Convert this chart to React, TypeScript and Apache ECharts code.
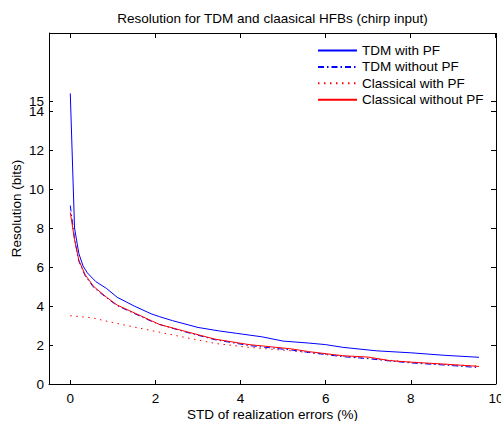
import React, { useEffect, useRef } from "react";
import * as echarts from "echarts";

const titleText = "Resolution for TDM and claasical HFBs (chirp input)";
const xAxisName = "STD of realization errors (%)";
const yAxisName = "Resolution (bits)";
const seriesNames = ["TDM with PF", "TDM without PF", "Classical with PF", "Classical without PF"];

const X_MIN = -0.5;
const X_MAX = 10;
const Y_MIN = 0;
const Y_MAX = 18;
const xTicks = [0, 2, 4, 6, 8, 10];
const yTicks = [0, 2, 4, 6, 8, 10, 12, 14];
const yTopTick = [14.5];

const xTdmPf = [0, 0.1, 0.2, 0.3, 0.4, 0.6, 0.85, 1.1, 1.5, 1.9, 2.1, 2.4, 3.0, 3.5, 3.9, 4.5, 5.0, 5.6, 6.0, 6.4, 7.2, 8.0, 8.8, 9.6];
const yTdmPf = [14.9, 8.0, 6.7, 6.05, 5.7, 5.25, 4.9, 4.45, 4.0, 3.6, 3.45, 3.25, 2.9, 2.72, 2.6, 2.42, 2.2, 2.1, 2.02, 1.88, 1.7, 1.6, 1.47, 1.37];

const xTdmNoPf = [0, 0.1, 0.2, 0.35, 0.55, 0.85, 1.1, 1.5, 1.9, 2.1, 2.7, 3.4, 4.2, 5.2, 5.6, 6.4, 7.0, 7.5, 8.0, 8.8, 9.6];
const yTdmNoPf = [9.15, 7.45, 6.3, 5.55, 4.95, 4.42, 4.02, 3.62, 3.22, 3.05, 2.67, 2.27, 1.97, 1.74, 1.62, 1.4, 1.3, 1.18, 1.08, 0.97, 0.84];

const xClassPf = [0, 0.5, 1.0, 1.5, 2.0, 2.6, 3.4, 4.2, 5.2, 6.0, 6.8, 7.6, 8.4, 9.0, 9.6];
const yClassPf = [3.5, 3.4, 3.15, 2.92, 2.7, 2.43, 2.08, 1.88, 1.7, 1.52, 1.35, 1.2, 1.05, 0.98, 0.92];

const xClassNoPf = [0, 0.1, 0.2, 0.35, 0.55, 0.85, 1.1, 1.5, 1.9, 2.1, 2.7, 3.4, 4.2, 5.2, 5.6, 6.4, 7.0, 7.5, 8.0, 8.8, 9.6];
const yClassNoPf = [8.8, 7.4, 6.35, 5.6, 5.0, 4.45, 4.05, 3.65, 3.25, 3.05, 2.7, 2.3, 2.02, 1.8, 1.66, 1.45, 1.38, 1.2, 1.12, 1.02, 0.9];

const pairs = (xs: number[], ys: number[]) => xs.map((x, i) => [x, ys[i]]);

const FONT = "Liberation Sans, Arial, Helvetica, sans-serif";
const FS = 13.5;
const TICK = 4;

export default function App() {
  const ref = useRef<HTMLDivElement>(null);
  useEffect(() => {
    if (!ref.current) return;
    const chart = echarts.init(ref.current, undefined, { renderer: "svg" });
    const axisLine = { show: true, onZero: false, lineStyle: { color: "#000", width: 1 } };
    const tick = (vals: number[]) => ({ show: true, inside: true, length: TICK, lineStyle: { color: "#000" }, customValues: vals });
    const frameLine = { color: "#000", width: 1, type: "solid" };
    chart.setOption({
      animation: false,
      backgroundColor: "#fff",
      textStyle: { fontFamily: FONT },
      title: {
        text: titleText,
        left: 272.5,
        top: 11,
        padding: 0,
        textAlign: "center",
        textStyle: { fontSize: FS, fontWeight: "normal", color: "#000", fontFamily: FONT },
      },
      legend: {
        orient: "vertical",
        left: 317,
        top: 43.5,
        padding: 0,
        itemWidth: 39,
        itemHeight: 14,
        itemGap: 2.4,
        itemStyle: { opacity: 0 },
        textStyle: { fontSize: FS, color: "#000", fontFamily: FONT },
        data: seriesNames,
      },
      grid: { left: 49, right: 5, top: 33, bottom: 37, containLabel: false, outerBoundsMode: "none" },
      xAxis: [
        {
          type: "value",
          min: X_MIN,
          max: X_MAX,
          name: xAxisName,
          nameLocation: "middle",
          nameGap: 23,
          nameMoveOverlap: false,
          nameTextStyle: { fontSize: FS, color: "#000", fontFamily: FONT },
          axisLine,
          axisTick: tick(xTicks),
          axisLabel: { show: true, fontSize: FS, color: "#000", margin: 7, customValues: xTicks, hideOverlap: false, fontFamily: FONT },
          splitLine: { show: false },
        },
      ],
      yAxis: [
        {
          type: "value",
          min: Y_MIN,
          max: Y_MAX,
          name: yAxisName,
          nameLocation: "middle",
          nameGap: 26,
          nameMoveOverlap: false,
          nameTextStyle: { fontSize: FS, color: "#000", fontFamily: FONT },
          axisLine,
          axisTick: tick(yTicks),
          axisLabel: { show: true, fontSize: FS, color: "#000", margin: 5, customValues: yTicks, hideOverlap: false, fontFamily: FONT },
          splitLine: { show: false },
        },
        {
          type: "value",
          position: "left",
          min: Y_MIN,
          max: Y_MAX,
          axisLine: { show: false, onZero: false },
          axisTick: tick(yTopTick),
          axisLabel: { show: true, fontSize: FS, color: "#000", margin: 5, customValues: yTopTick, formatter: () => "15", fontFamily: FONT },
          splitLine: { show: false },
        },
      ],
      series: [
        {
          name: seriesNames[0],
          type: "line",
          symbol: "none",
          data: pairs(xTdmPf, yTdmPf),
          lineStyle: { color: "#0000ff", width: 1, type: "solid" },
          itemStyle: { color: "#0000ff" },
          z: 4,
          markLine: {
            silent: true,
            symbol: ["none", "none"],
            label: { show: false },
            lineStyle: frameLine,
            data: [{ yAxis: Y_MAX }, { xAxis: X_MAX }],
          },
        },
        {
          name: seriesNames[1],
          type: "line",
          symbol: "none",
          yAxisIndex: 1,
          data: pairs(xTdmNoPf, yTdmNoPf),
          lineStyle: { color: "#0000ff", width: 1, type: [6, 3, 1.5, 3] },
          itemStyle: { color: "#0000ff" },
          z: 3,
        },
        {
          name: seriesNames[2],
          type: "line",
          symbol: "none",
          data: pairs(xClassPf, yClassPf),
          lineStyle: { color: "#ff0000", width: 1, type: [1.5, 4.5] },
          itemStyle: { color: "#ff0000" },
          z: 2,
        },
        {
          name: seriesNames[3],
          type: "line",
          symbol: "none",
          data: pairs(xClassNoPf, yClassNoPf),
          lineStyle: { color: "#ff0000", width: 1, type: "solid" },
          itemStyle: { color: "#ff0000" },
          z: 5,
        },
      ],
    });

    // Mirrored inward ticks on the top and right sides, placed through the axes' scales.
    const graphics: any[] = [];
    const px = (x: number, y: number) => chart.convertToPixel({ gridIndex: 0 }, [x, y]) as number[];
    const tl = px(X_MIN, Y_MAX);
    const br = px(X_MAX, Y_MIN);
    const top = Math.round(tl[1]);
    const right = Math.round(br[0]) - 1;
    const fill = { fill: "#000" };
    xTicks.forEach((v) => {
      const p = px(v, Y_MAX);
      graphics.push({ type: "rect", silent: true, z: 100, shape: { x: Math.floor(p[0]), y: top, width: 1, height: TICK + 1 }, style: fill });
    });
    yTicks.concat(yTopTick).forEach((v) => {
      const p = px(X_MAX, v);
      graphics.push({ type: "rect", silent: true, z: 100, shape: { x: right - TICK, y: Math.floor(p[1]), width: TICK + 1, height: 1 }, style: fill });
    });
    chart.setOption({ graphic: { elements: graphics } });

    return () => chart.dispose();
  }, []);
  return <div ref={ref} style={{ position: "absolute", left: 0, top: 0, width: 501, height: 421 }} />;
}
